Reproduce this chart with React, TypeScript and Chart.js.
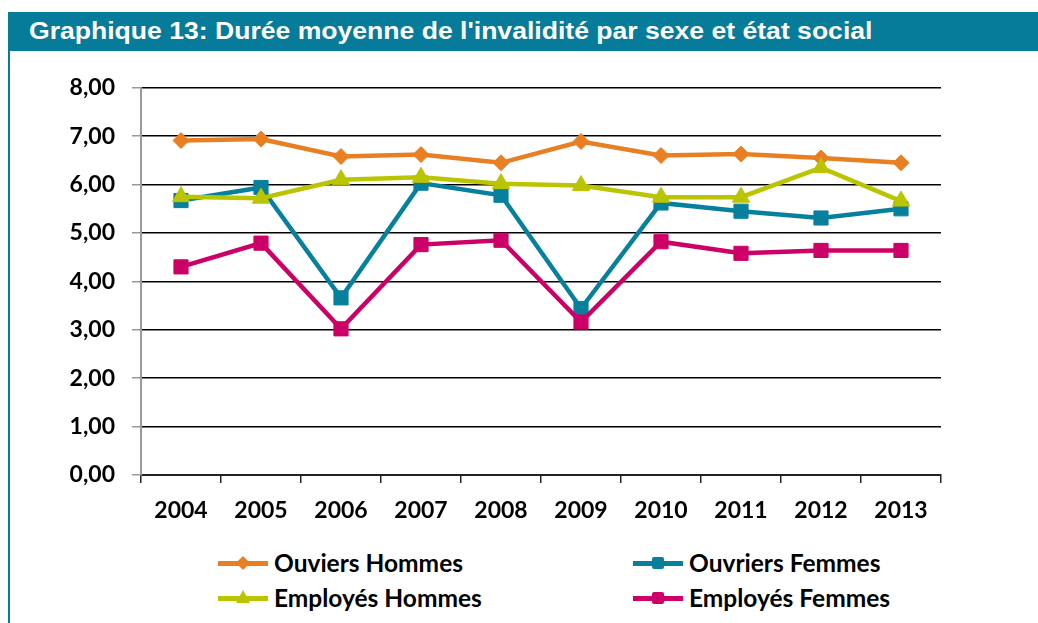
import React, { useEffect, useRef } from "react";
import { Chart, registerables } from "chart.js";

Chart.register(...registerables);

const years = ["2004", "2005", "2006", "2007", "2008", "2009", "2010", "2011", "2012", "2013"];
const ouviersHommes = [6.91, 6.94, 6.58, 6.62, 6.45, 6.89, 6.6, 6.63, 6.55, 6.45];
const ouvriersFemmes = [5.67, 5.94, 3.66, 6.03, 5.78, 3.44, 5.62, 5.45, 5.31, 5.5];
const employesHommes = [5.75, 5.72, 6.1, 6.15, 6.02, 5.98, 5.74, 5.74, 6.35, 5.66];
const employesFemmes = [4.3, 4.79, 3.02, 4.76, 4.85, 3.16, 4.82, 4.58, 4.64, 4.64];

const TEAL_BAR = "#077B9A";
const C_OH = "#E97F23";
const C_OF = "#07809E";
const C_EH = "#BBC400";
const C_EF = "#CC0066";

const TITLE = "Graphique 13: Durée moyenne de l'invalidité par sexe et état social";

type LegendItem = { label: string; color: string; shape: "diamond" | "square" | "triangle"; x: number; y: number };

const legendItems: LegendItem[] = [
  { label: "Ouviers Hommes", color: C_OH, shape: "diamond", x: 218, y: 563 },
  { label: "Ouvriers Femmes", color: C_OF, shape: "square", x: 633, y: 563 },
  { label: "Employés Hommes", color: C_EH, shape: "triangle", x: 218, y: 598 },
  { label: "Employés Femmes", color: C_EF, shape: "square", x: 633, y: 598 },
];

function Marker({ shape, color }: { shape: string; color: string }) {
  const base: React.CSSProperties = { position: "absolute", background: color };
  if (shape === "diamond") {
    return <div style={{ ...base, left: 20, top: -5, width: 10, height: 10, transform: "rotate(45deg)" }} />;
  }
  if (shape === "square") {
    return <div style={{ ...base, left: 19, top: -6, width: 12, height: 12, borderRadius: 2 }} />;
  }
  return (
    <div
      style={{ ...base, left: 18, top: -8, width: 14, height: 13, clipPath: "polygon(50% 0%, 100% 100%, 0% 100%)" }}
    />
  );
}

export default function App() {
  const canvasRef = useRef<HTMLCanvasElement | null>(null);

  useEffect(() => {
    if (!canvasRef.current) return;
    const tickFont = { family: "Lato", size: 23, weight: "bold" as const };
    const mk = (label: string, data: number[], color: string, style: any, radius: number, order: number) => ({
      label,
      data,
      borderColor: color,
      backgroundColor: color,
      borderWidth: 4.5,
      pointStyle: style,
      pointRadius: radius,
      pointHoverRadius: radius,
      pointBorderWidth: 1,
      pointBorderColor: color,
      pointBackgroundColor: color,
      tension: 0,
      order,
    });
    const chart = new Chart(canvasRef.current, {
      type: "line",
      data: {
        labels: years,
        datasets: [
          mk("Ouviers Hommes", ouviersHommes, C_OH, "rectRot", 8, 4),
          mk("Ouvriers Femmes", ouvriersFemmes, C_OF, "rect", 10, 3),
          mk("Employés Hommes", employesHommes, C_EH, "triangle", 10, 2),
          mk("Employés Femmes", employesFemmes, C_EF, "rect", 10, 1),
        ],
      },
      options: {
        responsive: false,
        animation: false,
        devicePixelRatio: 1,
        layout: { padding: { top: 4, right: 39, left: 0, bottom: 0 } },
        plugins: { legend: { display: false }, tooltip: { enabled: false }, title: { display: false } },
        scales: {
          x: {
            type: "category",
            offset: true,
            grid: {
              offset: true,
              drawOnChartArea: false,
              color: "#222",
              tickColor: "#222",
              tickLength: 8,
              lineWidth: 1.5,
            },
            border: { color: "#222", width: 2 },
            ticks: { color: "#000", font: tickFont, padding: 14, maxRotation: 0, autoSkip: false },
            afterFit: (s: any) => {
              s.height = 55;
            },
          },
          y: {
            min: 0,
            max: 8,
            grid: { color: "#000", tickColor: "#999", tickLength: 9, lineWidth: 1.5 },
            border: { color: "#999", width: 2 },
            ticks: {
              stepSize: 1,
              color: "#000",
              font: tickFont,
              padding: 17,
              callback: (v: any) => Number(v).toFixed(2).replace(".", ","),
            },
            afterFit: (s: any) => {
              s.width = 121;
            },
          },
        },
      },
    });
    return () => chart.destroy();
  }, []);

  return (
    <div style={{ position: "absolute", left: 0, top: 0, width: 1038, height: 623, background: "#fff", overflow: "hidden" }}>
      <div style={{ position: "absolute", left: 8, top: 12, width: 1030, height: 39, background: TEAL_BAR }} />
      <div
        style={{
          position: "absolute",
          left: 29,
          top: 12,
          height: 39,
          lineHeight: "39px",
          color: "#fff",
          fontFamily: "'Liberation Sans', Arial, sans-serif",
          fontWeight: "bold",
          fontSize: 23,
          whiteSpace: "nowrap",
          transform: "scaleX(1.155)",
          transformOrigin: "0 50%",
        }}
      >
        {TITLE}
      </div>
      <div style={{ position: "absolute", left: 8, top: 51, width: 2, height: 572, background: TEAL_BAR }} />
      <canvas
        ref={canvasRef}
        width={960}
        height={473}
        style={{ position: "absolute", left: 20, top: 57, width: 960, height: 473 }}
      />
      {legendItems.map((it) => (
        <div key={it.label} style={{ position: "absolute", left: it.x, top: it.y, height: 0 }}>
          <div style={{ position: "absolute", left: 0, top: -2, width: 50, height: 5, background: it.color }} />
          <Marker shape={it.shape} color={it.color} />
          <div
            style={{
              position: "absolute",
              left: 56,
              top: -15,
              lineHeight: "30px",
              height: 30,
              whiteSpace: "nowrap",
              fontFamily: "Lato, sans-serif",
              fontWeight: "bold",
              fontSize: 24.5,
              color: "#000",
            }}
          >
            {it.label}
          </div>
        </div>
      ))}
    </div>
  );
}
